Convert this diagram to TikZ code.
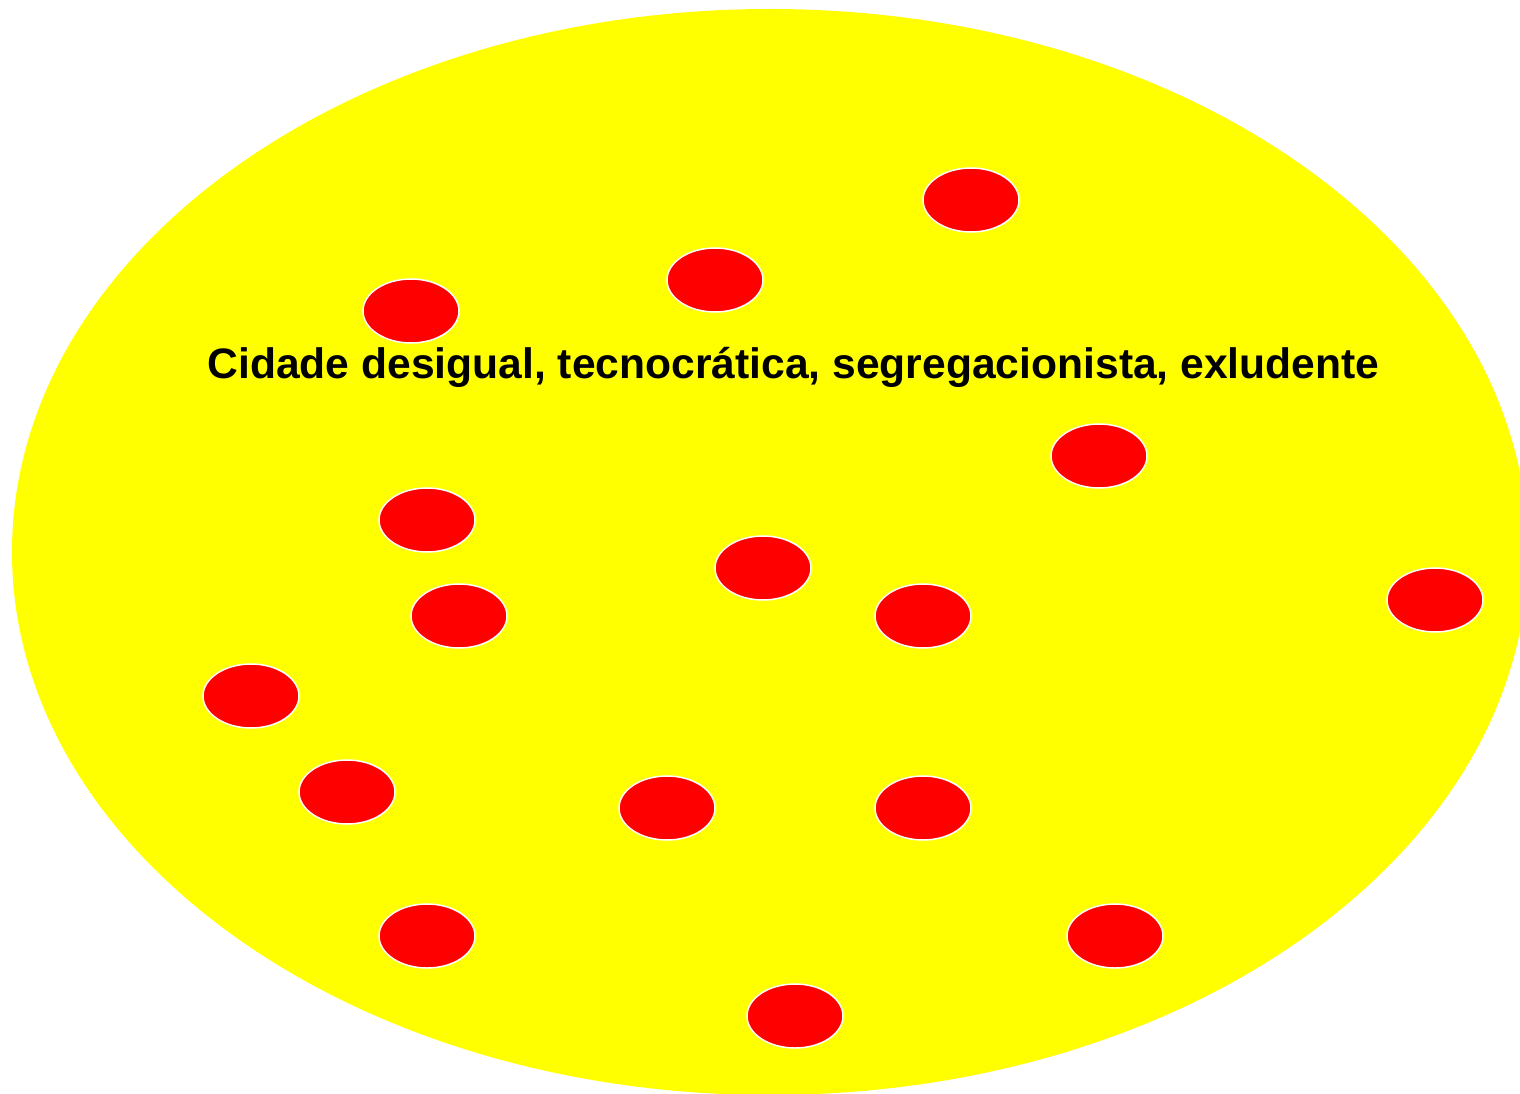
\documentclass[tikz,border=0pt]{standalone}
\usepackage{fontspec}
\setmainfont{Liberation Sans}
\usetikzlibrary{shapes.geometric}
\definecolor{pureyellow}{RGB}{255,255,0}
\definecolor{purered}{RGB}{255,0,0}
\begin{document}
\begin{tikzpicture}[x=1pt,y=-1pt,
  dot/.style={ellipse,draw=white,line width=1.5pt,fill=purered,minimum width=96pt,minimum height=64pt,inner sep=0pt},
  title/.style={anchor=base,inner sep=0pt,font=\fontsize{42.6}{50}\selectfont\bfseries}]
\useasboundingbox (0,0) rectangle (1520,1094);
\begin{scope}
\clip (0,0) rectangle (1520,1094);
\fill[pureyellow] (770,552) ellipse [x radius=758pt, y radius=543pt];
\end{scope}
\node[dot] (d1) at (971,200) {};
\node[dot] (d2) at (715,280) {};
\node[dot] (d3) at (411,311) {};
\node[dot] (d4) at (1099,456) {};
\node[dot] (d5) at (427,520) {};
\node[dot] (d6) at (763,568) {};
\node[dot] (d7) at (459,616) {};
\node[dot] (d8) at (923,616) {};
\node[dot] (d9) at (1435,600) {};
\node[dot] (d10) at (251,696) {};
\node[dot] (d11) at (347,792) {};
\node[dot] (d12) at (667,808) {};
\node[dot] (d13) at (923,808) {};
\node[dot] (d14) at (427,936) {};
\node[dot] (d15) at (1115,936) {};
\node[dot] (d16) at (795,1016) {};
\node[title] (t) at (793.5,378) {Cidade desigual, tecnocrática, segregacionista, exludente};
\end{tikzpicture}
\end{document}
